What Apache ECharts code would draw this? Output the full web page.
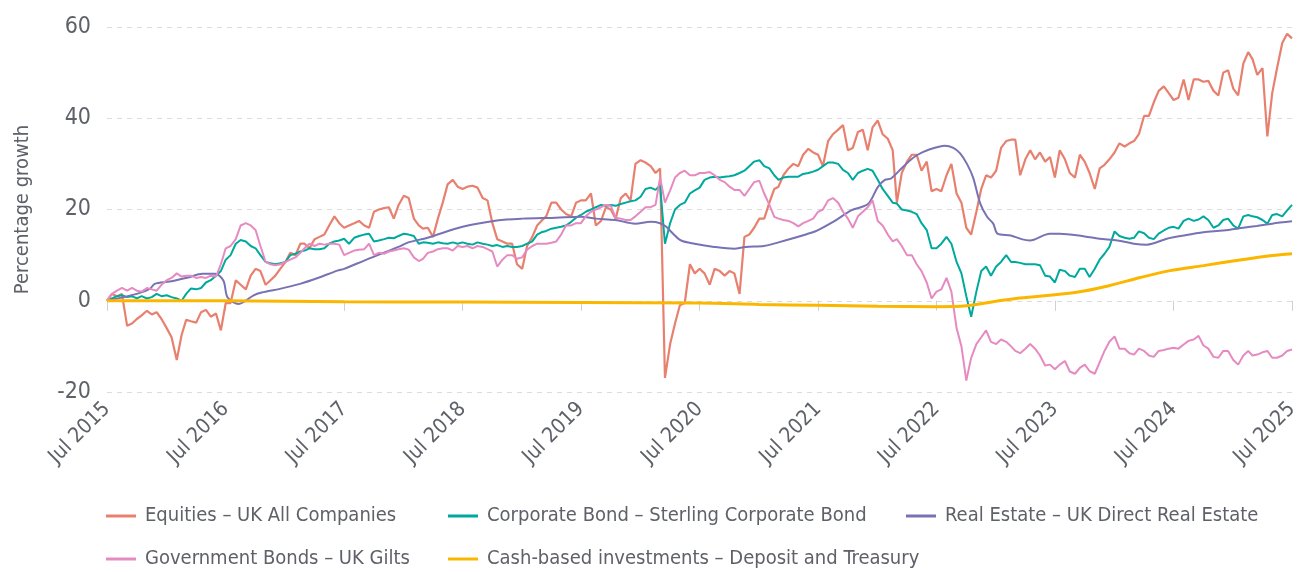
<!DOCTYPE html>
<html>
<head>
<meta charset="utf-8" />
<style>
  html, body { margin: 0; padding: 0; background: #ffffff; }
  #main { width: 1316px; height: 572px; }
</style>
</head>
<body>
<div id="main"></div>
<script src="https://cdn.jsdelivr.net/npm/echarts@6/dist/echarts.min.js"></script>
<script>
// half-monthly observations, 1st and 16th of each month, Jul 2015 .. Jul 2025
const dates = [];
for (let y = 2015; y <= 2025; y++) {
  for (let m = 1; m <= 12; m++) {
    if (y === 2015 && m < 7) continue;
    const mm = String(m).padStart(2, '0');
    dates.push(y + '-' + mm + '-01');
    if (y === 2025 && m === 7) break;
    dates.push(y + '-' + mm + '-16');
  }
}

const equities = [
  0, 1.5, 1, 1.5, -5.5, -5, -4, -3.2, -2.2, -3,
  -2.5, -4, -6, -8, -13, -7.5, -4.2, -4.5, -4.8, -2.5,
  -2, -3.5, -2.8, -6.5, -0.5, -0.5, 4.5, 3.5, 2.5, 5.5,
  7, 6.5, 3.5, 4.5, 5.5, 7, 8.5, 10.5, 10, 12.5,
  12.5, 11.5, 13.5, 14, 14.5, 16.5, 18.5, 17, 16, 16.5,
  17, 17.5, 16.5, 16, 19.5, 20, 20.3, 20.5, 18, 21,
  23, 22.5, 18, 16.5, 15.8, 16, 14, 18, 21.5, 25.5,
  26.5, 25, 24.5, 25, 25.2, 24.8, 22.5, 22, 17, 13.5,
  13, 12.5, 12.5, 8, 7, 12, 14, 16.5, 17.5, 18.5,
  21.5, 21.5, 20, 19, 18.5, 21.5, 22, 22, 23.5, 16.5,
  17.5, 20.5, 20, 18, 22.5, 23.5, 22, 30, 30.8, 30.3,
  29.5, 28, 29, -16.9, -9.5, -5, -1, -0.5, 8, 6,
  7, 6, 3.5, 7, 6.5, 5.5, 6.5, 6, 1.5, 14,
  14.5, 16, 18, 18, 21.5, 24.5, 25, 27.5, 29, 30,
  29.5, 32, 33.3, 32.5, 32, 29.5, 35, 36.5, 37.5, 38.5,
  33, 33.5, 37, 37.5, 33, 38, 39.5, 36.5, 35.5, 33,
  21.5, 28, 30.5, 32, 32, 28.5, 30.5, 24, 24.5, 24,
  27.5, 30, 23.5, 21.5, 16, 14.5, 19.5, 24.5, 27.5, 27,
  28.5, 33.5, 35, 35.3, 35.3, 27.5, 31, 33, 31, 32.5,
  30.5, 31.5, 27, 33, 31, 28, 27, 32, 30.5, 28,
  24.5, 29, 29.8, 31, 32.5, 34.5, 33.8, 34.5, 35, 36.5,
  40.5, 40.5, 43.5, 46, 47, 45.5, 44, 44.5, 48.5, 44,
  48.5, 48.5, 48, 48.2, 46, 45, 50, 50.5, 46.5, 45,
  52, 54.5, 53, 49.5, 51, 36, 45.5, 51, 56.5, 58.5, 57.5
];

const corporate = [
  0, 0.5, 1, 1.2, 0.8, 1, 0.5, 1, 0.5, 0.8,
  1.5, 1, 1.2, 0.8, 0.5, 0, 1.5, 2.7, 2.5, 2.8,
  4, 4.5, 5.5, 6.5, 9, 10, 12.5, 13.3, 13, 12,
  11.5, 10, 8.5, 8.2, 8, 8.2, 8.5, 10, 10.3, 10.8,
  11, 11.5, 11.3, 11.3, 11.5, 12.5, 13, 13.2, 13.6, 12.5,
  13.8, 14.2, 14.5, 14.7, 13, 13.2, 13.5, 13.8, 13.7, 14.2,
  14.7, 14.5, 14.2, 12.5, 12.8, 12.7, 12.5, 12.8, 12.6, 12.5,
  12.8, 12.5, 12.8, 12.5, 12.3, 12.8, 12.5, 12.3, 12, 12.2,
  11.8, 12, 11.8, 11.8, 12, 12.5, 13, 14.5, 15, 15.3,
  15.8, 16, 16.2, 16.5, 17.3, 18.2, 18.8, 19.5, 20, 20.5,
  21, 20.8, 21, 20.8, 21.2, 21.5, 21.8, 22, 22.8, 24.5,
  24.8, 24.3, 25.3, 12.5, 17, 20, 21, 21.5, 23.5, 24.2,
  24.8, 26.5, 27, 27.2, 27, 27.2, 27.3, 27.5, 28, 28.5,
  29.5, 30.5, 30.8, 29.5, 29, 27.5, 26.5, 27, 27.2, 27.2,
  27.2, 27.8, 28, 28.3, 28.7, 29.5, 30.3, 30.3, 30, 28.7,
  28, 26.5, 28, 28.5, 28.9, 28.5, 26.5, 24.5, 23, 21.5,
  21.3, 20, 19.8, 19.5, 19, 17, 15.5, 11.5, 11.5, 12.5,
  14, 12.5, 8.5, 6, 1, -3.5, 2, 6.5, 7.5, 5.5,
  7.5, 8.5, 10, 8.5, 8.5, 8.3, 8, 8, 8, 7.8,
  5.5, 5.3, 4, 6.8, 6.5, 5.5, 5.2, 7, 7, 5.2,
  7, 9, 10.3, 11.8, 15.2, 14.2, 13.8, 13.6, 13.8, 15.2,
  14.8, 13.8, 13.5, 14.7, 15.4, 16, 16.2, 15.8, 17.5, 18,
  17.5, 17.8, 18.5, 17.7, 16, 16.5, 17.7, 18, 16.5, 15.8,
  18.5, 18.8, 18.5, 18.3, 17.7, 16.9, 18.8, 19, 18.5, 19.8, 21
];

const gilts = [
  0, 1.5, 2.2, 2.8, 2.2, 2.8, 2.2, 2, 2.8, 2.5,
  2.2, 3.5, 4.5, 5, 6, 5.3, 5.5, 5.5, 5, 5.2,
  5, 5.5, 5.3, 8, 11.5, 12, 13.5, 16.5, 17, 16.5,
  15.5, 12, 8.5, 8, 7.8, 8, 8.5, 9, 9.5, 10.5,
  11.5, 12.5, 12, 12.5, 12.3, 12.5, 12.5, 12.3, 10, 10.5,
  11, 11.2, 11.3, 12.5, 10, 10.5, 10.3, 10.8, 11, 11.3,
  11.5, 11.2, 9.5, 8.7, 9.2, 10.5, 10.8, 11.3, 11.5, 11.5,
  11, 12, 11.8, 12, 11.5, 12, 11.8, 11.3, 10.8, 7.5,
  9, 10, 10, 9.2, 9.5, 11.2, 12, 12.5, 12.5, 12.5,
  12.7, 13, 14.5, 16.5, 16.5, 17, 17, 18.5, 19.5, 20,
  20.5, 21, 20.8, 18.2, 18, 17.7, 17.7, 18.5, 19.5, 20.5,
  20.5, 21, 27, 21.5, 24.2, 27, 28, 28.5, 27.5, 27.5,
  28, 28, 28.2, 27.5, 26.5, 26, 25, 24.3, 24.3, 23,
  24.5, 26, 26.3, 23.5, 21, 18.4, 18, 17.7, 17.5, 17,
  16.3, 17, 17.5, 18, 19.5, 20, 22, 22.5, 21.5, 19.5,
  18, 16, 18.5, 19.5, 20.5, 22, 17.5, 16.5, 14.5, 13,
  13.5, 12, 10, 10, 8, 6.5, 4, 0.5, 2, 2.5,
  5, 2, -6, -10, -17.5, -12.5, -9.5, -8, -6.5, -9,
  -9.5, -8.5, -9, -10, -11, -11.5, -10.5, -9.5, -10.5, -12,
  -14.2, -14, -15, -14, -13.2, -15.5, -16, -14.7, -14, -15.4,
  -16, -13.5, -11, -9, -7.8, -10.5, -10.5, -11.5, -11.8, -10.5,
  -11, -12, -12.3, -11, -10.8, -10.5, -10.3, -10.5, -9.6, -8.8,
  -8.5, -7.7, -9.8, -10.5, -12.3, -12.5, -11, -11, -13, -14,
  -12, -11, -12, -11.8, -11.3, -11, -12.5, -12.5, -12, -11, -10.7
];

// smoother series have their own, sparser dates
const realEstateDates = [
  '2015-07-01', '2015-10-01', '2015-11-10', '2015-11-25', '2016-01-10', '2016-03-07',
  '2016-04-20', '2016-05-30', '2016-06-24', '2016-07-07', '2016-08-10', '2016-09-25',
  '2016-10-20', '2016-12-15', '2017-02-15', '2017-04-15', '2017-06-10', '2017-07-01',
  '2017-09-01', '2017-12-15', '2018-01-15', '2018-03-15', '2018-07-01', '2018-10-15',
  '2019-01-01', '2019-04-15', '2019-07-01', '2019-08-15', '2019-10-15', '2019-12-15',
  '2020-02-01', '2020-03-01', '2020-03-20', '2020-04-10', '2020-05-05', '2020-06-15',
  '2020-08-15', '2020-10-15', '2020-11-20', '2021-01-15', '2021-03-01', '2021-04-20',
  '2021-06-10', '2021-07-01', '2021-08-19', '2021-10-11', '2021-12-02', '2022-01-01',
  '2022-01-23', '2022-02-11', '2022-03-11', '2022-04-11', '2022-05-04', '2022-06-03',
  '2022-07-27', '2022-08-22', '2022-09-12', '2022-10-03', '2022-10-22', '2022-11-13',
  '2022-12-04', '2022-12-23', '2023-01-05', '2023-02-15', '2023-03-20', '2023-04-15',
  '2023-06-15', '2023-07-15', '2023-10-01', '2023-11-15', '2024-01-10', '2024-03-01',
  '2024-04-10', '2024-06-10', '2024-08-01', '2024-10-01', '2024-12-01', '2025-02-01',
  '2025-03-15', '2025-05-01', '2025-07-01'
];
const realEstate = [
  0, 1.5, 2.6, 3.7, 4.2, 5.1,
  5.9, 5.9, 4.4, 0.7, -0.7, 1.2,
  1.8, 2.6, 3.7, 5.1, 6.6, 7.0,
  8.8, 11.8, 12.8, 13.8, 16.2, 17.6,
  18, 18.2, 18.4, 18, 17.7, 16.9,
  17.3, 17, 16.2, 14.7, 13.2, 12.5,
  11.8, 11.4, 11.8, 12, 12.8, 13.8,
  14.9, 15.5, 17.4, 19.8, 21.2, 24.9,
  26.5, 26.8, 28.7, 30.8, 32, 33,
  34, 33.5, 32.3, 30, 27, 21.3,
  18.4, 16.9, 14.7, 14.3, 13.5, 13.2,
  14.7, 14.7, 14.1, 13.6, 13.2, 12.5,
  12.3, 13.6, 14.3, 15, 15.4, 16,
  16.4, 16.9, 17.4
];

const cashDates = [
  '2015-07-01', '2016-07-01', '2017-07-01', '2018-07-01', '2019-07-01', '2020-07-01',
  '2021-01-01', '2021-07-01', '2022-01-01', '2022-07-01', '2022-10-01', '2023-01-01',
  '2023-03-15', '2023-09-01', '2023-12-15', '2024-03-20', '2024-06-20', '2024-10-01',
  '2025-01-10', '2025-05-01', '2025-07-01'
];
const cash = [
  0, 0, -0.2, -0.3, -0.4, -0.5,
  -0.8, -1.0, -1.2, -1.3, -1.1, -0.1,
  0.6, 1.8, 3.3, 5.1, 6.6, 7.7,
  8.8, 9.9, 10.3
];

const yTicks = [-20, 0, 20, 40, 60];
const xTickDates = [
  '2015-07-01', '2016-07-01', '2017-07-01', '2018-07-01', '2019-07-01', '2020-07-01',
  '2021-07-01', '2022-07-01', '2023-07-01', '2024-07-01', '2025-07-01'
];

const names = [
  'Equities \u2013 UK All Companies',
  'Corporate Bond \u2013 Sterling Corporate Bond',
  'Real Estate \u2013 UK Direct Real Estate',
  'Government Bonds \u2013 UK Gilts',
  'Cash-based investments \u2013 Deposit and Treasury'
];
const colors = ['#e8806f', '#00a99d', '#7672b4', '#e68ac2', '#fbb600'];

const FONT = '"DejaVu Sans Condensed", "Liberation Sans Narrow", Roboto, sans-serif';
const TEXT = '#5f6169';

function ts(d) {
  const p = d.split('-');
  return Date.UTC(+p[0], +p[1] - 1, +p[2]);
}
function pairs(ds, vs) {
  return ds.map((d, i) => [ts(d), vs[i]]);
}

const xTicks = xTickDates.map(ts);

const legendSpots = [
  { left: 106, top: 506 },
  { left: 448, top: 506 },
  { left: 906, top: 506 },
  { left: 106, top: 549 },
  { left: 448, top: 549 }
];

const chart = echarts.init(document.getElementById('main'));
chart.setOption({
  animation: false,
  backgroundColor: '#ffffff',
  textStyle: { fontFamily: FONT },
  grid: { left: 107, right: 24, top: 27, bottom: 180, containLabel: false },
  legend: names.map((n, i) => ({
    data: [n],
    left: legendSpots[i].left,
    top: legendSpots[i].top,
    padding: 0,
    icon: 'rect',
    itemWidth: 30,
    itemHeight: 3,
    selectedMode: false,
    textStyle: { fontFamily: FONT, fontSize: 20, color: TEXT, padding: [0, 0, 0, 4] }
  })),
  xAxis: {
    type: 'value',
    min: xTicks[0],
    max: xTicks[xTicks.length - 1],
    axisLine: { show: false },
    splitLine: { show: false },
    axisTick: {
      show: true,
      customValues: xTicks,
      length: 10,
      lineStyle: { color: '#d0d0d0' }
    },
    axisLabel: {
      customValues: xTicks,
      rotate: 45,
      margin: 14,
      hideOverlap: false,
      fontFamily: FONT,
      fontSize: 21,
      color: TEXT,
      formatter: v => 'Jul ' + new Date(v).getUTCFullYear()
    }
  },
  yAxis: {
    type: 'value',
    min: yTicks[0],
    max: yTicks[yTicks.length - 1],
    interval: 20,
    name: 'Percentage growth',
    nameLocation: 'middle',
    nameGap: 74,
    nameTextStyle: { fontFamily: FONT, fontSize: 20, color: TEXT },
    axisLine: { show: false },
    axisTick: { show: false },
    axisLabel: { fontFamily: FONT, fontSize: 23, color: TEXT, margin: 16 },
    splitLine: { lineStyle: { color: '#dcdcdc', type: [5, 5], width: 1 } }
  },
  series: [
    { name: names[0], data: pairs(dates, equities), width: 2.2 },
    { name: names[1], data: pairs(dates, corporate), width: 2 },
    { name: names[2], data: pairs(realEstateDates, realEstate), width: 2, smooth: 0.3 },
    { name: names[3], data: pairs(dates, gilts), width: 2 },
    { name: names[4], data: pairs(cashDates, cash), width: 3, smooth: 0.3 }
  ].map((s, i) => ({
    name: s.name,
    type: 'line',
    data: s.data,
    smooth: s.smooth || false,
    showSymbol: false,
    symbol: 'none',
    color: colors[i],
    lineStyle: { color: colors[i], width: s.width },
    emphasis: { disabled: true }
  }))
});
</script>
</body>
</html>
